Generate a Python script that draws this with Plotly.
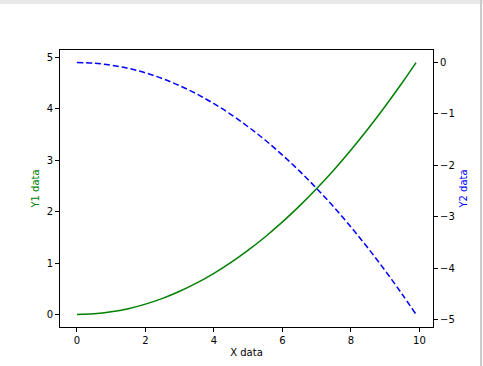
import plotly.graph_objects as go

x_vals = [0, 0.5, 1, 1.5, 2, 2.5, 3, 3.5, 4, 4.5, 5, 5.5, 6, 6.5, 7, 7.5, 8, 8.5, 9, 9.5, 9.9]
y1_vals = [0, 0.012, 0.05, 0.112, 0.2, 0.312, 0.45, 0.612, 0.8, 1.012, 1.25, 1.512, 1.8, 2.112,
           2.45, 2.812, 3.2, 3.612, 4.05, 4.512, 4.9]
y2_vals = [0, -0.012, -0.05, -0.112, -0.2, -0.312, -0.45, -0.612, -0.8, -1.012, -1.25, -1.512, -1.8,
           -2.112, -2.45, -2.812, -3.2, -3.612, -4.05, -4.512, -4.9]
x_ticks = [0, 2, 4, 6, 8, 10]
y1_ticks = [0, 1, 2, 3, 4, 5]
y2_ticks = [0, -1, -2, -3, -4, -5]

font = dict(family="DejaVu Sans", size=10, color="black")

fig = go.Figure()
fig.add_trace(go.Scatter(x=x_vals, y=y1_vals, mode="lines", line=dict(color="green", width=1.5, shape="spline"),
                         yaxis="y", showlegend=False))
fig.add_trace(go.Scatter(x=x_vals, y=y2_vals, mode="lines",
                         line=dict(color="blue", width=1.5, dash="6px,3px", shape="spline"),
                         yaxis="y2", showlegend=False))

axis_common = dict(showgrid=False, zeroline=False, showline=True, linecolor="black", linewidth=1,
                   ticks="outside", ticklen=4, tickwidth=1, tickcolor="black", tickfont=font,
                   automargin=False)

fig.update_layout(
    width=483, height=366,
    margin=dict(l=60, r=50, t=50, b=39),
    paper_bgcolor="white", plot_bgcolor="white",
    font=font,
    xaxis=dict(range=[-0.495, 10.395], tickvals=x_ticks, mirror=True,
               title=dict(text="X data", font=font, standoff=3), **axis_common),
    yaxis=dict(range=[-0.245, 5.145], tickvals=y1_ticks,
               title=dict(text="Y1 data", font=dict(family="DejaVu Sans", size=10, color="green"), standoff=5),
               **axis_common),
    yaxis2=dict(range=[-5.145, 0.245], tickvals=y2_ticks, overlaying="y", side="right",
                title=dict(text="Y2 data", font=dict(family="DejaVu Sans", size=10, color="blue"), standoff=6),
                **axis_common),
    shapes=[
        dict(type="rect", xref="paper", yref="paper", x0=-0.2, x1=1.2, y0=1.166, y1=1.19,
             fillcolor="#e8e8e8", line=dict(width=0), layer="below"),
        dict(type="line", xref="paper", yref="paper", x0=1.1287, x1=1.1287, y0=-0.2, y1=1.19,
             line=dict(color="#cccccc", width=2)),
    ],
)

fig.write_html("out.html")
